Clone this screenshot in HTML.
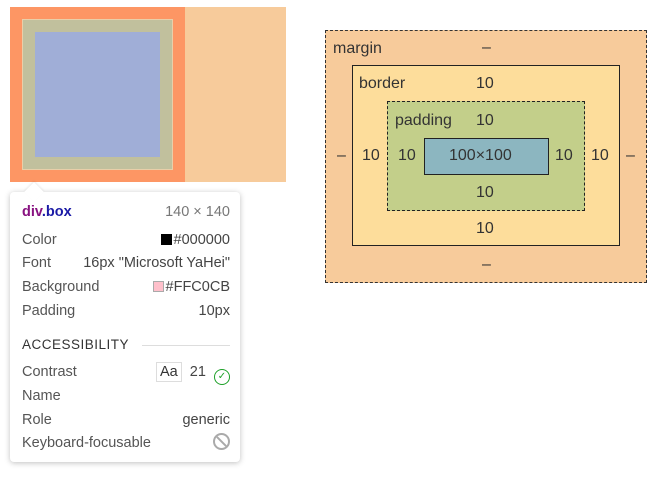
<!DOCTYPE html>
<html><head><meta charset="utf-8"><style>
*{margin:0;padding:0;box-sizing:border-box}
body{width:663px;height:494px;background:#fff;position:relative;overflow:hidden;font-family:"Liberation Sans","DejaVu Sans",sans-serif;color:#333}
.a{position:absolute}
.r{position:absolute;left:22px;right:433px;font-size:14.5px;color:#555;height:20px;line-height:20px}
.r .v{position:absolute;right:0;top:0;color:#444}
.bm{position:absolute;font-size:16px;color:#333;line-height:18px}
</style></head><body>
<div class="a" style="left:185px;top:7px;width:101px;height:175px;background:#f7cb9b"></div>
<div class="a" style="left:10px;top:7px;width:175px;height:175px;background:#fd9664"></div>
<div class="a" style="left:22px;top:19px;width:151px;height:151px;background:#c1c09d;border:1px solid #e9cfa9"></div>
<div class="a" style="left:35px;top:32px;width:125px;height:125px;background:#a0aed7"></div>

<div class="a" style="left:10px;top:192px;width:230px;height:270px;background:#fff;border-radius:4px;box-shadow:0 1px 6px rgba(0,0,0,.25)">
  <div class="a" style="left:17px;top:-7px;width:14px;height:14px;background:#fff;transform:rotate(45deg);box-shadow:-1px -1px 2px rgba(0,0,0,.08)"></div>
</div>
<div class="r" style="top:202px"><b style="color:#881280">div</b><b style="color:#1a1aa6">.box</b><span class="v" style="color:#777">140 × 140</span></div>
<div class="r" style="top:230px">Color<span class="v"><span style="display:inline-block;width:11px;height:11px;background:#000;vertical-align:-1px;margin-right:2px"></span>#000000</span></div>
<div class="r" style="top:253px">Font<span class="v">16px "Microsoft YaHei"</span></div>
<div class="r" style="top:277px">Background<span class="v"><span style="display:inline-block;width:11px;height:11px;background:#ffc0cb;border:1px solid #aaa;vertical-align:-1px;margin-right:2px"></span>#FFC0CB</span></div>
<div class="r" style="top:301px">Padding<span class="v">10px</span></div>
<div class="r" style="top:335px;color:#333;font-size:13.5px;letter-spacing:.5px">ACCESSIBILITY<span class="a" style="left:120px;right:0;top:10px;height:1px;background:#ddd"></span></div>
<div class="r" style="top:362px">Contrast<span class="v"><span style="display:inline-block;border:1px solid #ddd;padding:0 3px;line-height:18px;color:#333">Aa</span>&nbsp; 21 &nbsp;<span style="color:#1fa12a;display:inline-block;width:16px;height:16px;border:1.5px solid #1fa12a;border-radius:50%;font-size:10px;line-height:13px;text-align:center;vertical-align:-3px">✓</span></span></div>
<div class="r" style="top:386px">Name</div>
<div class="r" style="top:410px">Role<span class="v">generic</span></div>
<div class="r" style="top:433px">Keyboard-focusable<span class="v"><span style="display:inline-block;width:17px;height:17px;border:2px solid #aaa;border-radius:50%;position:relative;vertical-align:-3px;overflow:hidden"><span class="a" style="left:5.5px;top:-2px;width:2px;height:18px;background:#aaa;transform:rotate(-45deg)"></span></span></span></div>

<div class="a" style="left:325px;top:30px;width:322px;height:253px;background:#f7cb9b;border:1px dashed #333"></div>
<div class="a" style="left:352px;top:65px;width:268px;height:181px;background:#fddd9b;border:1px solid #222"></div>
<div class="a" style="left:387px;top:101px;width:198px;height:110px;background:#c3cf8a;border:1px dashed #222"></div>
<div class="a" style="left:424px;top:138px;width:125px;height:37px;background:#8cb6c0;border:1px solid #222"></div>
<div class="bm" style="left:333px;top:40px">margin</div>
<div class="bm" style="left:482px;top:39px">–</div>
<div class="bm" style="left:359px;top:75px">border</div>
<div class="bm" style="left:476px;top:75px">10</div>
<div class="bm" style="left:395px;top:112px">padding</div>
<div class="bm" style="left:476px;top:112px">10</div>
<div class="bm" style="left:337px;top:147px">–</div>
<div class="bm" style="left:362px;top:147px">10</div>
<div class="bm" style="left:398px;top:147px">10</div>
<div class="bm" style="left:449px;top:147px">100×100</div>
<div class="bm" style="left:555px;top:147px">10</div>
<div class="bm" style="left:591px;top:147px">10</div>
<div class="bm" style="left:626px;top:147px">–</div>
<div class="bm" style="left:476px;top:184px">10</div>
<div class="bm" style="left:476px;top:220px">10</div>
<div class="bm" style="left:482px;top:256px">–</div>
</body></html>
